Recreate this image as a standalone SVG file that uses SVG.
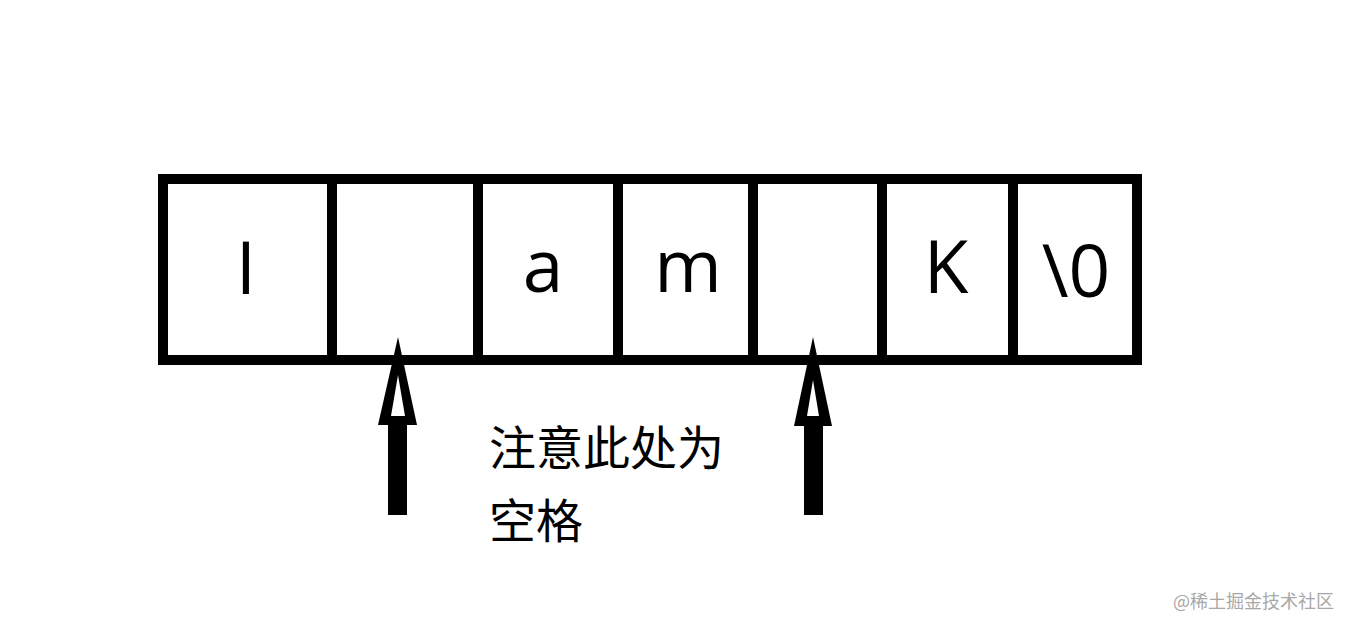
<svg xmlns="http://www.w3.org/2000/svg" width="1353" height="631" viewBox="0 0 1353 631">
<style>
.cell{fill:#fff;stroke:#000;stroke-width:10}
.ch{font-family:"Open Sans","Noto Sans",sans-serif;font-size:73px;fill:#000;text-anchor:middle}
.cn{font-family:"Noto Sans CJK SC",sans-serif;font-size:47px;fill:#000}
.wm{font-family:"Noto Sans CJK SC",sans-serif;font-size:18px;fill:#a8a8a8}
</style>
<rect width="1353" height="631" fill="#fff"/>
<g id="cell-0"><rect class="cell" x="163" y="179" width="169" height="181"/><text class="ch" x="246" y="294">I</text></g>
<g id="cell-1"><rect class="cell" x="332" y="179" width="146" height="181"/></g>
<g id="cell-2"><rect class="cell" x="478" y="179" width="140" height="181"/><text class="ch" x="543" y="292">a</text></g>
<g id="cell-3"><rect class="cell" x="618" y="179" width="135" height="181"/><text class="ch" x="688" y="292">m</text></g>
<g id="cell-4"><rect class="cell" x="753" y="179" width="129" height="181"/></g>
<g id="cell-5"><rect class="cell" x="882" y="179" width="131" height="181"/><text class="ch" x="946" y="293">K</text></g>
<g id="cell-6"><rect class="cell" x="1013" y="179" width="124" height="181"/><text class="ch" x="1076" y="297">\0</text></g>
<g id="connectors">
<g id="arrow-left">
<polygon points="398,337 378,425 417,425" fill="#000"/>
<polygon points="398,375 391,416 405,416" fill="#fff"/>
<rect x="388" y="424" width="19" height="91" fill="#000"/>
</g>
<g id="arrow-right">
<polygon points="813,337 794,426 832,426" fill="#000"/>
<polygon points="813,380 807,416 819,416" fill="#fff"/>
<rect x="804" y="425" width="19" height="90" fill="#000"/>
</g>
</g>
<g id="note">
<text class="cn" x="489" y="465">注意此处为</text>
<text class="cn" x="489" y="538">空格</text>
</g>
<text class="wm" x="1173" y="608">@稀土掘金技术社区</text>
</svg>
